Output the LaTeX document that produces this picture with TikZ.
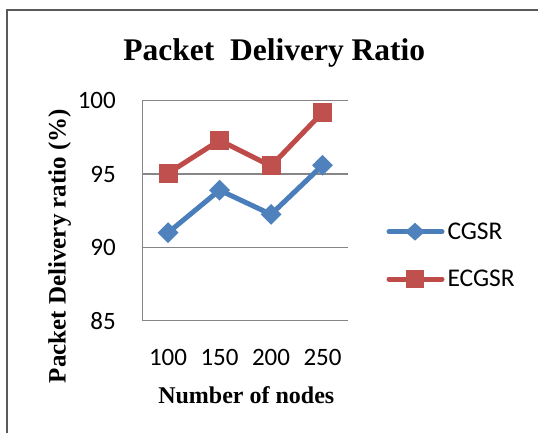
\documentclass[tikz,border=0pt]{standalone}
\usepackage{fontspec}
\setmainfont{Liberation Serif}
\newfontfamily\calib{Carlito}
\usetikzlibrary{shapes.geometric}
\definecolor{bluel}{HTML}{4A7EBB}
\definecolor{bluem}{HTML}{4F81BD}
\definecolor{redl}{HTML}{BE4B48}
\definecolor{redm}{HTML}{C0504D}
\definecolor{gridc}{HTML}{868686}
\definecolor{framec}{HTML}{5A5A5A}
\tikzset{
  gridline/.style={draw=gridc, line width=1.5pt},
  series/.style={line width=5pt, line join=round, line cap=round},
  dmd/.style={diamond, fill=bluem, inner sep=0pt, minimum width=21pt, minimum height=21pt},
  sqr/.style={rectangle, fill=redm, inner sep=0pt, minimum size=19pt},
  tick/.style={font=\calib\fontsize{25}{29}\selectfont, inner sep=0pt},
  legtext/.style={font=\calib\fontsize{25.5}{29}\selectfont, inner sep=0pt, anchor=west},
  lab/.style={font=\bfseries\fontsize{24}{28}\selectfont, inner sep=0pt},
}
\begin{document}
\begin{tikzpicture}[x=1pt,y=-1pt]
\useasboundingbox (0,0) rectangle (538,432);
% frame
\draw[framec, line width=2pt] (7.3,440) -- (7.3,10) -- (545,10);
% title
\node[font=\bfseries\fontsize{31.5}{36}\selectfont, inner sep=0pt, anchor=base] (title) at (274.2,60.5) {Packet\ \ Delivery Ratio};
% plot area
\def\ybase{320.7}
\def\yunit{14.667}
\foreach \v/\n in {100/g100,95/g95,90/g90,85/g85}{
  \coordinate (\n l) at (142.3,{\ybase-(\v-85)*\yunit});
  \coordinate (\n r) at (348.3,{\ybase-(\v-85)*\yunit});
  \draw[gridline] (\n l) -- (\n r);
  \node[tick, anchor=east] (\n t) at (116,{\ybase-(\v-85)*\yunit}) {\v};
}
\draw[gridline] (g100l) -- (g85l);
% x ticks
\foreach \x/\t in {168.05/100,219.55/150,271.05/200,322.55/250}{
  \node[tick, anchor=base] (x\t) at (\x,365.5) {\t};
}
% axis labels
\node[lab, anchor=base] (xlab) at (246.3,403.3) {Number of nodes};
\node[lab, font=\bfseries\fontsize{25}{28}\selectfont, anchor=base, rotate=90] (ylab) at (65.5,246) {Packet Delivery ratio (\%)};
% data
\coordinate (c1) at (168.05,{\ybase-(91.0-85)*\yunit});
\coordinate (c2) at (219.55,{\ybase-(93.9-85)*\yunit});
\coordinate (c3) at (271.05,{\ybase-(92.25-85)*\yunit});
\coordinate (c4) at (322.55,{\ybase-(95.6-85)*\yunit});
\coordinate (e1) at (168.05,{\ybase-(95.05-85)*\yunit});
\coordinate (e2) at (219.55,{\ybase-(97.3-85)*\yunit});
\coordinate (e3) at (271.05,{\ybase-(95.55-85)*\yunit});
\coordinate (e4) at (322.55,{\ybase-(99.2-85)*\yunit});
\draw[series, bluel] (c1) -- (c2) -- (c3) -- (c4);
\draw[series, redl] (e1) -- (e2) -- (e3) -- (e4);
\foreach \i in {1,2,3,4}{
  \node[dmd] (cm\i) at (c\i) {};
  \node[sqr] (em\i) at (e\i) {};
}
% legend
\coordinate (lc0) at (389,231.7);
\coordinate (lc1) at (442,231.7);
\draw[series, bluel] (lc0) -- (lc1);
\node[dmd, minimum height=18pt, minimum width=20pt] (lcm) at (415,231.7) {};
\node[legtext] (lct) at (447.3,231.5) {CGSR};
\coordinate (le0) at (389,279);
\coordinate (le1) at (442,279);
\draw[series, redl] (le0) -- (le1);
\node[sqr, minimum size=17.5pt] (lem) at (415,279) {};
\node[legtext] (let) at (447.3,278.7) {ECGSR};
\end{tikzpicture}
\end{document}
